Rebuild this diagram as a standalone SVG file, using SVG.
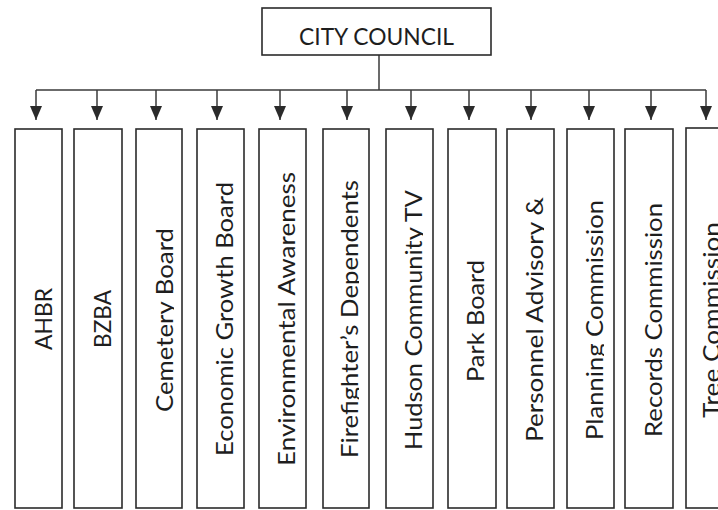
<svg xmlns="http://www.w3.org/2000/svg" width="718" height="510" viewBox="0 0 718 510">
<style>
.box{fill:#fff;stroke:#2b2b2b;stroke-width:1.6}
.ln{fill:none;stroke:#3a3a3a;stroke-width:1.5}
.t{font-family:Lato,"Open Sans","Liberation Sans",sans-serif;font-size:24px;fill:#1e1e1e;text-anchor:middle}
</style>
<defs>
<marker id="ah" markerWidth="14" markerHeight="12" refX="14" refY="6" orient="auto" markerUnits="userSpaceOnUse" viewBox="0 0 14 12">
<path d="M0,0 L14,6 L0,12 Z" fill="#2b2b2b"/>
</marker>
<clipPath id="desc" clipPathUnits="userSpaceOnUse"><rect x="-200" y="-40" width="400" height="41"/></clipPath>
</defs>
<rect width="718" height="510" fill="#fff"/>
<g id="connectors">
<line class="ln" x1="379" y1="55" x2="379" y2="90"/>
<line class="ln" x1="36" y1="90" x2="706" y2="90"/>
<line class="ln" x1="36" y1="90" x2="36" y2="120" marker-end="url(#ah)"/>
<line class="ln" x1="97" y1="90" x2="97" y2="120" marker-end="url(#ah)"/>
<line class="ln" x1="156" y1="90" x2="156" y2="120" marker-end="url(#ah)"/>
<line class="ln" x1="217" y1="90" x2="217" y2="120" marker-end="url(#ah)"/>
<line class="ln" x1="280" y1="90" x2="280" y2="120" marker-end="url(#ah)"/>
<line class="ln" x1="347" y1="90" x2="347" y2="120" marker-end="url(#ah)"/>
<line class="ln" x1="411" y1="90" x2="411" y2="120" marker-end="url(#ah)"/>
<line class="ln" x1="469" y1="90" x2="469" y2="120" marker-end="url(#ah)"/>
<line class="ln" x1="531" y1="90" x2="531" y2="120" marker-end="url(#ah)"/>
<line class="ln" x1="589" y1="90" x2="589" y2="120" marker-end="url(#ah)"/>
<line class="ln" x1="651" y1="90" x2="651" y2="120" marker-end="url(#ah)"/>
<line class="ln" x1="706" y1="90" x2="706" y2="120" marker-end="url(#ah)"/>
</g>
<g id="city-council">
<rect class="box" x="262" y="8" width="229" height="47"/>
<text class="t" x="376.5" y="45" textLength="155" lengthAdjust="spacingAndGlyphs">CITY COUNCIL</text>
</g>
<g id="ahbr">
<rect class="box" x="15" y="129" width="47" height="379"/>
<text class="t" transform="translate(52,319) rotate(-90)" clip-path="url(#desc)" textLength="62" lengthAdjust="spacingAndGlyphs">AHBR</text>
</g>
<g id="bzba">
<rect class="box" x="74" y="129" width="48" height="379"/>
<text class="t" transform="translate(111,319) rotate(-90)" clip-path="url(#desc)" textLength="58" lengthAdjust="spacingAndGlyphs">BZBA</text>
</g>
<g id="cemetery-board">
<rect class="box" x="136" y="129" width="46" height="379"/>
<text class="t" transform="translate(173,320) rotate(-90)" clip-path="url(#desc)" textLength="184" lengthAdjust="spacingAndGlyphs">Cemetery Board</text>
</g>
<g id="economic-growth-board">
<rect class="box" x="197" y="129" width="47" height="379"/>
<text class="t" transform="translate(233,319) rotate(-90)" clip-path="url(#desc)" textLength="274" lengthAdjust="spacingAndGlyphs">Economic Growth Board</text>
</g>
<g id="environmental-awareness">
<rect class="box" x="259" y="129" width="47" height="379"/>
<text class="t" transform="translate(295,319) rotate(-90)" clip-path="url(#desc)" textLength="294" lengthAdjust="spacingAndGlyphs">Environmental Awareness</text>
</g>
<g id="firefighters-dependents">
<rect class="box" x="323" y="129" width="46" height="379"/>
<text class="t" transform="translate(358,319) rotate(-90)" clip-path="url(#desc)" textLength="278" lengthAdjust="spacingAndGlyphs">Firefighter’s Dependents</text>
</g>
<g id="hudson-community-tv">
<rect class="box" x="386" y="129" width="47" height="379"/>
<text class="t" transform="translate(422,320) rotate(-90)" clip-path="url(#desc)" textLength="260" lengthAdjust="spacingAndGlyphs">Hudson Community TV</text>
</g>
<g id="park-board">
<rect class="box" x="448" y="129" width="48" height="379"/>
<text class="t" transform="translate(484,321) rotate(-90)" clip-path="url(#desc)" textLength="122" lengthAdjust="spacingAndGlyphs">Park Board</text>
</g>
<g id="personnel-advisory">
<rect class="box" x="507" y="129" width="47" height="379"/>
<text class="t" transform="translate(543,319.5) rotate(-90)" clip-path="url(#desc)" textLength="245" lengthAdjust="spacingAndGlyphs">Personnel Advisory &amp;</text>
</g>
<g id="planning-commission">
<rect class="box" x="567" y="129" width="47" height="379"/>
<text class="t" transform="translate(603,320) rotate(-90)" clip-path="url(#desc)" textLength="240" lengthAdjust="spacingAndGlyphs">Planning Commission</text>
</g>
<g id="records-commission">
<rect class="box" x="625" y="129" width="48" height="379"/>
<text class="t" transform="translate(662,320) rotate(-90)" clip-path="url(#desc)" textLength="234" lengthAdjust="spacingAndGlyphs">Records Commission</text>
</g>
<g id="tree-commission">
<rect class="box" x="686" y="128" width="60" height="380"/>
<text class="t" transform="translate(720,320) rotate(-90)" clip-path="url(#desc)" textLength="196" lengthAdjust="spacingAndGlyphs">Tree Commission</text>
</g>
</svg>
